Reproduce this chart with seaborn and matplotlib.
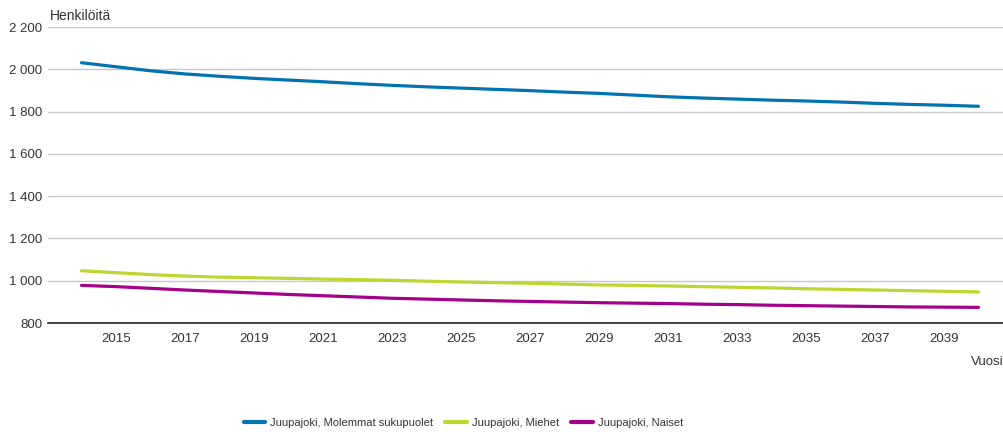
import matplotlib
matplotlib.use("Agg")
import matplotlib.pyplot as plt
import matplotlib.ticker as mticker
import pandas as pd
import seaborn as sns

# ---------------------------------------------------------------------------
# Data (luettu kuvasta)
# ---------------------------------------------------------------------------

YEARS = list(range(2014, 2041))

MOLEMMAT = [2031, 2012, 1993, 1978, 1967, 1957, 1949, 1941, 1932, 1924,
            1917, 1911, 1905, 1899, 1892, 1886, 1878, 1870, 1864, 1859,
            1854, 1850, 1845, 1839, 1834, 1830, 1825]
MIEHET = [1047, 1038, 1029, 1022, 1017, 1014, 1011, 1008, 1005, 1002,
          998, 994, 991, 988, 984, 980, 978, 975, 972, 969,
          966, 962, 959, 956, 953, 950, 947]
NAISET = [978, 972, 964, 956, 949, 942, 935, 929, 923, 917,
          913, 909, 905, 902, 899, 896, 894, 892, 889, 887,
          884, 882, 880, 878, 876, 875, 874]

SERIES_NAMES = ["Juupajoki, Molemmat sukupuolet", "Juupajoki, Miehet", "Juupajoki, Naiset"]
COLORS = ["#0073b0", "#bed62f", "#a4008a"]

X_TICKS = list(range(2015, 2040, 2))
Y_TICKS = list(range(800, 2201, 200))

# ---------------------------------------------------------------------------
# Plot
# ---------------------------------------------------------------------------

sns.set_theme(style="white")
plt.rcParams["font.family"] = ["Liberation Sans", "DejaVu Sans"]

df = pd.DataFrame({
    "Vuosi": YEARS * 3,
    "Henkilöitä": MOLEMMAT + MIEHET + NAISET,
    "Sarja": [s for s in SERIES_NAMES for _ in YEARS],
})

fig = plt.figure(figsize=(10.04, 4.32), dpi=100)
ax = fig.add_axes([48 / 1004, 1 - 323 / 432, 1 - 48 / 1004, (323 - 27) / 432])

sns.lineplot(data=df, x="Vuosi", y="Henkilöitä", hue="Sarja",
             hue_order=SERIES_NAMES, palette=COLORS, linewidth=2.3,
             ax=ax, legend=False)

ax.set_xlim(2013.03, 2040.74)
ax.set_ylim(800, 2200)
ax.set_xticks(X_TICKS)
ax.set_yticks(Y_TICKS)
ax.yaxis.set_major_formatter(
    mticker.FuncFormatter(lambda v, _: f"{int(v):,}".replace(",", " ")))
ax.tick_params(axis="both", length=0, labelsize=9.5, colors="#333333")
ax.tick_params(axis="x", pad=7)
ax.tick_params(axis="y", pad=4)
ax.set_xlabel("")
ax.set_ylabel("")
ax.grid(axis="y", color="#c8c8c8", linewidth=1)
for side in ["top", "right", "left"]:
    ax.spines[side].set_visible(False)
ax.spines["bottom"].set_color("#222222")
ax.spines["bottom"].set_linewidth(1.2)

fig.text(50 / 1004, 1 - 16 / 432, "Henkilöitä", ha="left", va="center",
         fontsize=10, color="#333333")
fig.text(971 / 1004, 1 - 362 / 432, "Vuosi", ha="left", va="center",
         fontsize=9.5, color="#333333")

handles = [plt.Line2D([], [], color=c, linewidth=3) for c in COLORS]
fig.legend(handles, SERIES_NAMES, loc="center", bbox_to_anchor=(463.5 / 1004, 1 - 423 / 432),
           ncol=3, frameon=False, fontsize=8, handlelength=1.9,
           columnspacing=1.1, handletextpad=0.5, labelcolor="#333333")

fig.savefig("out.png", dpi=100)
